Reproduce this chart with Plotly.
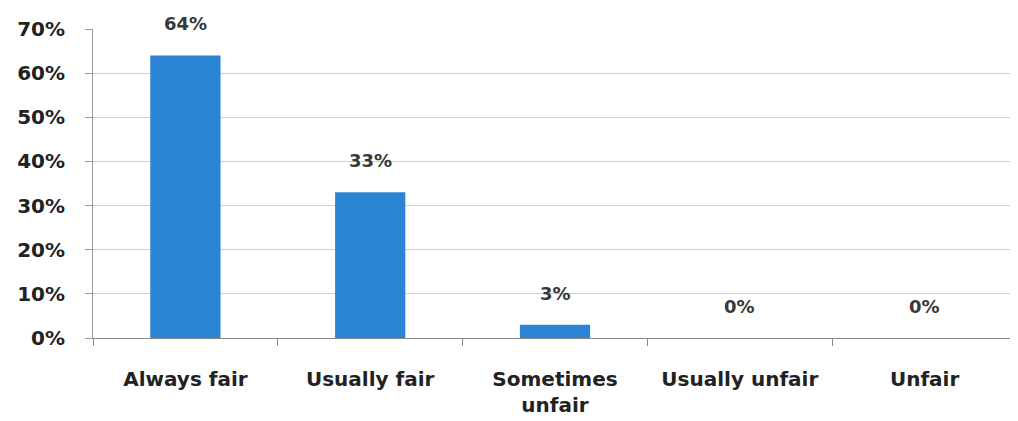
import plotly.graph_objects as go

categories = ["Always fair", "Usually fair", "Sometimes<br>unfair", "Usually unfair", "Unfair"]
values = [64, 33, 3, 0, 0]
labels = ["64%", "33%", "3%", "0%", "0%"]
y_ticks = [0, 10, 20, 30, 40, 50, 60, 70]

font_family = "DejaVu Sans"
text_color = "#222222"

fig = go.Figure()
fig.add_trace(go.Bar(
    x=categories, y=values, width=0.38,
    marker=dict(color="#2B84D3", line=dict(width=0)),
    showlegend=False,
))

for c, v, t in zip(categories, values, labels):
    fig.add_annotation(x=c, y=v, text=f"<b>{t}</b>", showarrow=False, yanchor="bottom", yshift=19,
                       font=dict(family=font_family, size=18, color="#383838"))

fig.update_layout(
    width=1018, height=421,
    margin=dict(l=84, r=9, t=15, b=91),
    paper_bgcolor="white", plot_bgcolor="white",
    font=dict(family=font_family, size=20, color=text_color),
)
fig.update_xaxes(
    showline=True, linecolor="#8a8a8a", linewidth=1,
    ticks="outside", ticklen=7, tickcolor="#8a8a8a", tickson="boundaries",
    ticklabelstandoff=23, showgrid=False,
    tickvals=categories, ticktext=[f"<b>{c}</b>" for c in categories],
    tickfont=dict(family=font_family, size=20, color=text_color),
)
fig.update_yaxes(
    range=[0, 70], tickvals=y_ticks, ticktext=[f"<b>{v}%</b>" for v in y_ticks],
    showline=True, linecolor="#9a9a9a", linewidth=1,
    ticks="outside", ticklen=7, tickcolor="#9a9a9a",
    showgrid=True, gridcolor="#d0d0d0", gridwidth=1, zeroline=False,
    ticklabelstandoff=16,
    tickfont=dict(family=font_family, size=20, color=text_color),
)

fig.write_html("out.html")
